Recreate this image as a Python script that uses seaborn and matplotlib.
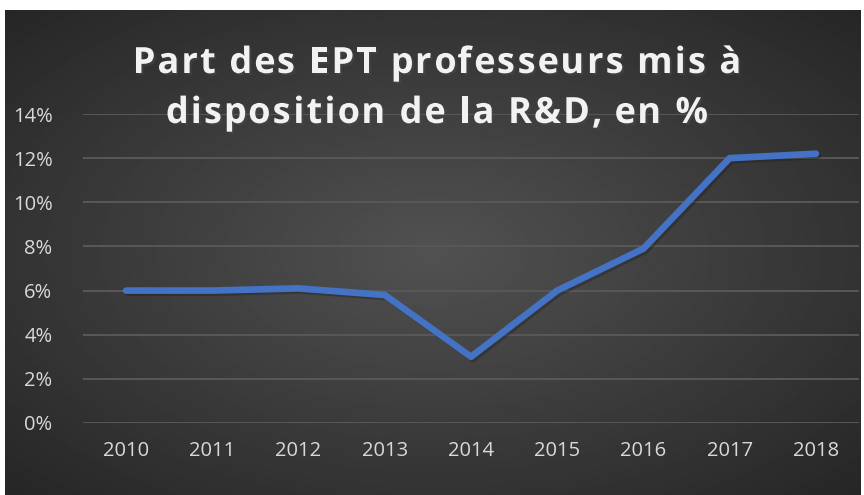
import numpy as np
import pandas as pd
import matplotlib
matplotlib.use("Agg")
import matplotlib.pyplot as plt
import matplotlib.patheffects as pe
import seaborn as sns

# data
years = ["2010", "2011", "2012", "2013", "2014", "2015", "2016", "2017", "2018"]
share = [6.0, 6.0, 6.1, 5.8, 3.0, 6.0, 7.9, 12.0, 12.2]
yticks = [0, 2, 4, 6, 8, 10, 12, 14]
title_lines = ["Part des EPT professeurs mis à", "disposition de la R&D, en %"]

df = pd.DataFrame({"year": years, "share": share})

sns.set_theme(style="dark")
plt.rcParams["font.family"] = ["Open Sans", "DejaVu Sans"]

W, H = 864, 495
fig = plt.figure(figsize=(W / 100, H / 100), dpi=100)
fig.patch.set_facecolor("white")

# dark radial gradient background (like the office chart style)
bg = fig.add_axes([5 / W, 0, 855 / W, 485 / H])
gx, gy = np.meshgrid(np.linspace(-1, 1, 400), np.linspace(-1, 1, 240))
r = np.sqrt(gx ** 2 + gy ** 2) / np.sqrt(2)
shade = 0.32 - 0.17 * r
bg.imshow(shade, cmap="gray", vmin=0, vmax=1, aspect="auto", interpolation="bilinear")
bg.set_axis_off()

ax = fig.add_axes([83 / W, 72 / H, 776 / W, 309 / H])
ax.patch.set_alpha(0)

sns.lineplot(data=df, x="year", y="share", ax=ax, color="#4472C4", linewidth=4.8,
             solid_capstyle="round", solid_joinstyle="round", sort=False,
             path_effects=[pe.SimpleLineShadow(offset=(1.5, -1.5), alpha=0.35),
                           pe.Normal()])

ax.set_xlim(-0.5, len(years) - 0.5)
ax.set_ylim(0, 14)
ax.set_yticks(yticks)
ax.set_yticklabels([f"{v}%" for v in yticks])
ax.grid(axis="y", color="#585858", linewidth=1.4)
ax.grid(axis="x", visible=False)
ax.set_axisbelow(True)
for s in ax.spines.values():
    s.set_visible(False)
ax.set_xlabel("")
ax.set_ylabel("")
ax.tick_params(axis="both", colors="#D9D9D9", labelsize=14.5, length=0)
ax.tick_params(axis="y", pad=22)
ax.tick_params(axis="x", pad=13)

# title, letter-spaced: place every character on its own
renderer = fig.canvas.get_renderer()
tkw = dict(color="#F2F2F2", fontsize=26, fontweight="bold", va="baseline", ha="left",
           path_effects=[pe.withSimplePatchShadow(offset=(1.5, -1.5), alpha=0.5)])


def text_w(s):
    t = fig.text(0, 0, s + "x", **tkw)
    w = t.get_window_extent(renderer).width
    t.remove()
    t = fig.text(0, 0, "x", **tkw)
    w -= t.get_window_extent(renderer).width
    t.remove()
    return w


gap = 2.1
cx = 437
for line, base_y in zip(title_lines, [73, 123]):
    offs = [text_w(line[:i]) + i * gap for i in range(len(line))]
    total = text_w(line) + (len(line) - 1) * gap
    x0 = cx - total / 2
    for ch, o in zip(line, offs):
        if ch != " ":
            fig.text((x0 + o) / W, (H - base_y) / H, ch, **tkw)

fig.savefig("out.png", dpi=100)
